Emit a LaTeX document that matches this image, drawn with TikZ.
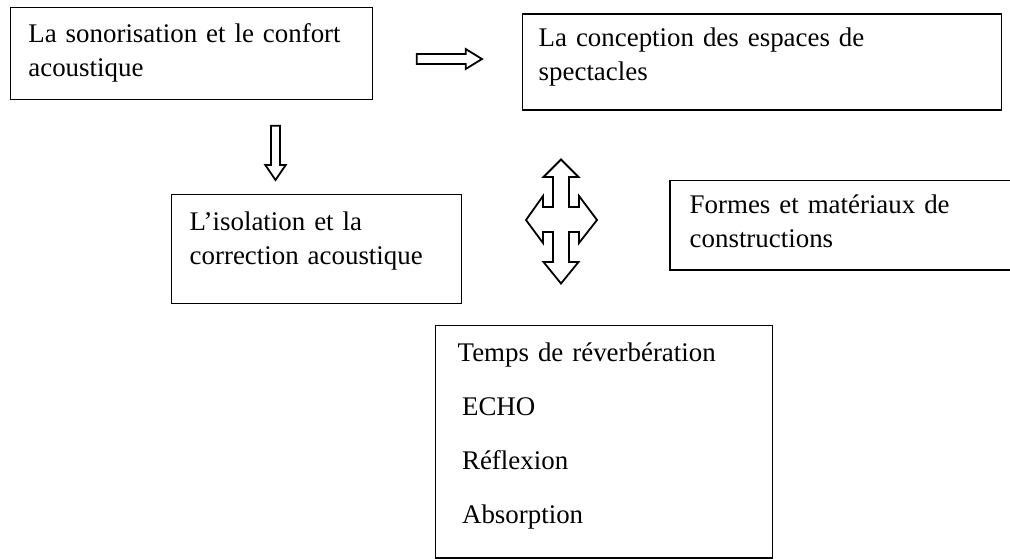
\documentclass[tikz,border=0pt]{standalone}
\usepackage{fontspec}
\setmainfont{Liberation Serif}

\begin{document}
\begin{tikzpicture}[x=0.5pt,y=-0.5pt]
  \tikzset{box/.style={draw, line width=0.65pt, inner sep=0pt, anchor=north west},
    txt/.style={anchor=base west, inner sep=0pt, text width=200pt, align=left,
      font=\fontsize{13.45}{17}\selectfont},
    fat/.style={draw, line width=0.9pt, fill=white}}
  \clip (0,0) rectangle (1010,558);
  \node[box, minimum width=181.1pt, minimum height=46.15pt] (sono) at (9.5,6.7) {};
  \node[box, minimum width=239.5pt, minimum height=48pt] (concept) at (521.7,13.3) {};
  \node[box, minimum width=145.15pt, minimum height=54.35pt] (isol) at (170.7,194) {};
  \node[box, minimum width=172.85pt, minimum height=44.65pt] (formes) at (669.3,180) {};
  \node[box, minimum width=168.35pt, minimum height=116.15pt] (temps) at (435,325) {};
  \node[txt] (sonotxt) at (28,42) {La sonorisation et le confort\\acoustique};
  \node[txt] (concepttxt) at (538.3,46.5) {La conception des espaces de\\spectacles};
  \node[txt] (isoltxt) at (189.3,230.5) {L’isolation et la\\correction acoustique};
  \node[txt] (formestxt) at (689.3,213.5) {Formes et matériaux de\\constructions};
  \node[txt, font=\fontsize{13.45}{27}\selectfont] (tempstxt) at (457.3,361)
    {Temps de réverbération\\\hspace*{2.2pt}ECHO\\\hspace*{2.2pt}Réflexion\\\hspace*{2.2pt}Absorption};
  \coordinate (toright) at (416.7,59);
  \coordinate (todown) at (275.5,125.7);
  \coordinate (cross) at (561,220);
  \draw[fat] (toright) ++(0,-5) -- ++(49,0) -- ++(0,-5) -- ++(16.3,10) -- ++(-16.3,10)
    -- ++(0,-5) -- ++(-49,0) -- cycle;
  \draw[fat] (todown) ++(-4.5,0) -- ++(9,0) -- ++(0,39.3) -- ++(5.7,0) -- ++(-10.2,15)
    -- ++(-10.2,-15) -- ++(5.7,0) -- cycle;
  \draw[fat, shift={(cross)}] (0,-60.5) -- (17.5,-43) -- (8,-43) -- (8,-13) -- (18,-13)
    -- (18,-24) -- (36,0) -- (18,23) -- (18,12) -- (8,12) -- (8,42) -- (17.5,42)
    -- (0,63.5) -- (-17.5,42) -- (-8,42) -- (-8,12) -- (-18,12) -- (-18,23) -- (-35,0)
    -- (-18,-24) -- (-18,-13) -- (-8,-13) -- (-8,-43) -- (-17.5,-43) -- cycle;
\end{tikzpicture}
\end{document}
